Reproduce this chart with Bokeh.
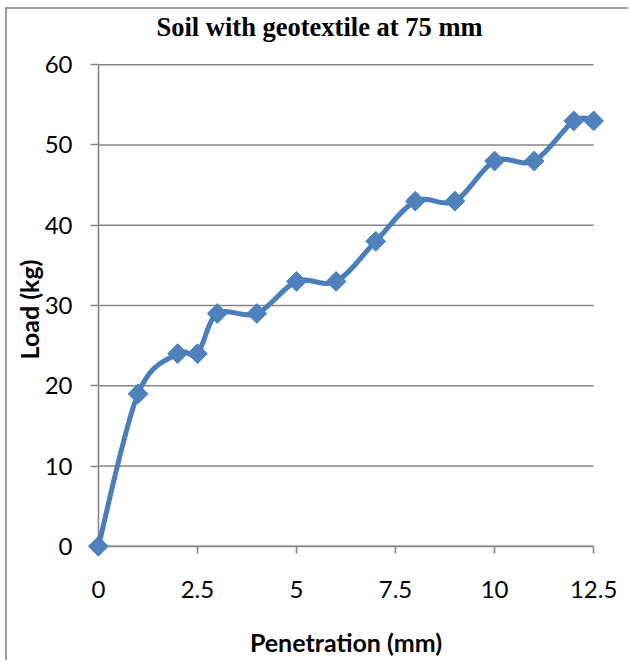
import numpy as np
from bokeh.plotting import figure
from bokeh.models import Range1d, FixedTicker, LinearAxis, Label
from bokeh.embed import file_html
from bokeh.resources import INLINE

# ---- data ----
penetration = [0, 1, 2, 2.5, 3, 4, 5, 6, 7, 8, 9, 10, 11, 12, 12.5]
load = [0, 19, 24, 24, 29, 29, 33, 33, 38, 43, 43, 48, 48, 53, 53]
x_ticks = [0, 2.5, 5, 7.5, 10, 12.5]
y_ticks = [0, 10, 20, 30, 40, 50, 60]
title_text = "Soil with geotextile at 75 mm"
x_label = "Penetration (mm)"
y_label = "Load (kg)"

LINE = "#4a7ebb"
FILL = "#4f81bd"
GRAY = "#868686"

# ranges padded a little so the end markers are not clipped
p = figure(width=623, height=653, output_backend="svg", toolbar_location=None,
           x_range=Range1d(-0.3, 12.8), y_range=Range1d(-1.4, 60.4),
           min_border_left=79, min_border_right=25, min_border_top=52,
           min_border_bottom=105)
p.styles = {"margin-left": "5px", "margin-top": "7px",
            "border-left": "2px solid #9c9c9c", "border-top": "2px solid #9c9c9c"}
p.outline_line_color = None
p.background_fill_color = "white"
p.border_fill_color = "white"
p.title.visible = False

# title, placed in screen units in the panel above the plot frame
title = Label(text=title_text, x=70, y=34.5, x_units="screen", y_units="screen",
              text_font="Liberation Serif", text_font_style="bold",
              text_font_size="26.5px", text_color="black",
              text_align="left", text_baseline="alphabetic")
p.add_layout(title, "above")

# horizontal gridlines spanning only the axis extent
p.xgrid.grid_line_color = None
p.ygrid.grid_line_color = None
p.segment(x0=[x_ticks[0]] * len(y_ticks), x1=[x_ticks[-1]] * len(y_ticks),
          y0=y_ticks, y1=y_ticks, line_color=GRAY, line_width=1.6, level="underlay")

# smooth (Bezier) line through the points, Excel style
x = np.array(penetration, dtype=float)
y = np.array(load, dtype=float)
n = len(x)
xp = np.concatenate([[x[0]], x, [x[-1]]])
yp = np.concatenate([[y[0]], y, [y[-1]]])
x0 = x[:-1]; y0 = y[:-1]; x1 = x[1:]; y1 = y[1:]
cx0 = x0 + (xp[2:n+1] - xp[0:n-1]) / 6.0
cy0 = y0 + (yp[2:n+1] - yp[0:n-1]) / 6.0
cx1 = x1 - (xp[3:n+2] - xp[1:n]) / 6.0
cy1 = y1 - (yp[3:n+2] - yp[1:n]) / 6.0
p.bezier(x0=x0, y0=y0, x1=x1, y1=y1, cx0=cx0, cy0=cy0, cx1=cx1, cy1=cy1,
         line_color=LINE, line_width=5, line_cap="round")

p.scatter(penetration, load, marker="square", angle=np.pi / 4, size=14,
          fill_color=FILL, line_color=LINE, line_width=1)

# label-only axes in the side panels
for ax in (p.xaxis[0], p.yaxis[0]):
    ax.axis_line_color = None
    ax.major_tick_line_color = None
    ax.major_tick_in = 0
    ax.major_tick_out = 0
    ax.minor_tick_line_color = None
    ax.major_label_text_font = "Lato"
    ax.major_label_text_font_size = "24px"
    ax.major_label_text_color = "black"
    ax.axis_label_text_font = "Lato"
    ax.axis_label_text_font_style = "bold"
    ax.axis_label_text_font_size = "25px"
    ax.axis_label_text_color = "black"

p.xaxis.ticker = FixedTicker(ticks=x_ticks)
p.xaxis.major_label_overrides = {t: f"{t:g}" for t in x_ticks}
p.xaxis.major_label_standoff = 23
p.xaxis.axis_label = x_label
p.xaxis.axis_label_standoff = 26

p.yaxis.ticker = FixedTicker(ticks=y_ticks)
p.yaxis.major_label_overrides = {t: f"{t:g}" for t in y_ticks}
p.yaxis.major_label_standoff = 14
p.yaxis.axis_label = y_label
p.yaxis.axis_label_standoff = -2

# axis lines and tick marks at the data origin
x_line = LinearAxis(fixed_location=0, ticker=FixedTicker(ticks=x_ticks),
                    bounds=(x_ticks[0], x_ticks[-1]), level="underlay")
y_line = LinearAxis(fixed_location=0, ticker=FixedTicker(ticks=y_ticks),
                    bounds=(y_ticks[0], y_ticks[-1]), level="underlay")
for ax in (x_line, y_line):
    ax.axis_line_color = GRAY
    ax.axis_line_width = 1.6
    ax.major_tick_line_color = GRAY
    ax.major_tick_line_width = 1.6
    ax.major_tick_in = 0
    ax.minor_tick_line_color = None
    ax.major_label_text_alpha = 0
    ax.major_label_text_font_size = "1px"
x_line.major_tick_out = 7
y_line.major_tick_out = 8
p.add_layout(x_line, "below")
p.add_layout(y_line, "left")

open("out.html", "w").write(file_html(p, INLINE))
